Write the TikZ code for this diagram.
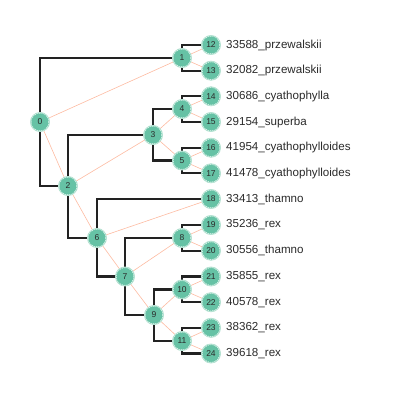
\documentclass[tikz,border=0pt]{standalone}
\usepackage{fontspec}
\setmainfont{Liberation Sans}
\usetikzlibrary{backgrounds}
\definecolor{nodefill}{HTML}{66C2A5}
\definecolor{nodering}{HTML}{B5E2D2}
\definecolor{treeline}{HTML}{222222}
\definecolor{faceline}{HTML}{FC8D62}
\definecolor{labeltext}{HTML}{2A2A2A}
\tikzset{
  tn/.style={circle, fill=nodefill, draw=nodering, line width=0.9pt, minimum size=19pt, inner sep=0pt,
    font=\fontsize{8.5}{8.5}\selectfont, text=labeltext},
  tnring/.style={draw=white, dashed, dash pattern=on 1pt off 1pt, line width=0.4pt},
  branch/.style={draw=treeline, line width=2.1pt},
  face/.style={draw=faceline!60, line width=0.6pt},
  leaflabel/.style={anchor=west, inner sep=0pt, font=\fontsize{11.6}{11.6}\selectfont, text=labeltext}
}
\begin{document}
\begin{tikzpicture}[x=1pt,y=-1pt]
\useasboundingbox (0,0) rectangle (400,400);
% internal nodes
\node[tn] (n0) at (40,122) {0};
\node[tn] (n1) at (182,58) {1};
\node[tn] (n2) at (68,186) {2};
\node[tn] (n3) at (153,135) {3};
\node[tn] (n4) at (182,109) {4};
\node[tn] (n5) at (182,160.5) {5};
\node[tn] (n6) at (97,238) {6};
\node[tn] (n7) at (125,276.5) {7};
\node[tn] (n8) at (182,238) {8};
\node[tn] (n9) at (154,315) {9};
\node[tn] (n10) at (182,289.5) {10};
\node[tn] (n11) at (182,341) {11};
% leaves
\node[tn] (n12) at (211,45) {12};
\node[tn] (n13) at (211,70.7) {13};
\node[tn] (n14) at (211,96.3) {14};
\node[tn] (n15) at (211,122) {15};
\node[tn] (n16) at (211,147.7) {16};
\node[tn] (n17) at (211,173.3) {17};
\node[tn] (n18) at (211,199) {18};
\node[tn] (n19) at (211,225) {19};
\node[tn] (n20) at (211,250.7) {20};
\node[tn] (n21) at (211,276.5) {21};
\node[tn] (n22) at (211,302.2) {22};
\node[tn] (n23) at (211,327.8) {23};
\node[tn] (n24) at (211,353.5) {24};
% dashed inner rings
\foreach \n in {0,...,24}{\draw[tnring] (n\n.center) circle[radius=8.8pt];}
% leaf labels
\node[leaflabel] (l12) at (226,45) {33588\_przewalskii};
\node[leaflabel] (l13) at (226,70.7) {32082\_przewalskii};
\node[leaflabel] (l14) at (226,96.3) {30686\_cyathophylla};
\node[leaflabel] (l15) at (226,122) {29154\_superba};
\node[leaflabel] (l16) at (226,147.7) {41954\_cyathophylloides};
\node[leaflabel] (l17) at (226,173.3) {41478\_cyathophylloides};
\node[leaflabel] (l18) at (226,199) {33413\_thamno};
\node[leaflabel] (l19) at (226,225) {35236\_rex};
\node[leaflabel] (l20) at (226,250.7) {30556\_thamno};
\node[leaflabel] (l21) at (226,276.5) {35855\_rex};
\node[leaflabel] (l22) at (226,302.2) {40578\_rex};
\node[leaflabel] (l23) at (226,327.8) {38362\_rex};
\node[leaflabel] (l24) at (226,353.5) {39618\_rex};
\begin{scope}[on background layer]
\foreach \p/\c in {0/1,0/2,1/12,1/13,2/3,2/6,3/4,3/5,4/14,4/15,5/16,5/17,6/18,6/7,7/8,7/9,8/19,8/20,9/10,9/11,10/21,10/22,11/23,11/24}{
  \draw[branch] (n\p.center) |- (n\c.center);
}
\foreach \p/\c in {0/1,0/2,1/12,1/13,2/3,2/6,3/4,3/5,4/14,4/15,5/16,5/17,6/18,6/7,7/8,7/9,8/19,8/20,9/10,9/11,10/21,10/22,11/23,11/24}{
  \draw[face] (n\p.center) -- (n\c.center);
}
\end{scope}
\end{tikzpicture}
\end{document}
